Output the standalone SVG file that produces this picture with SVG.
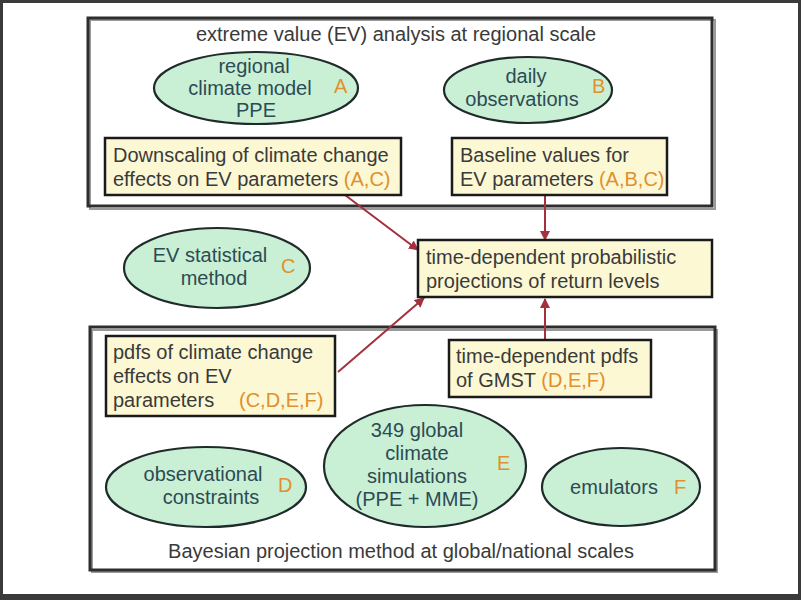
<svg xmlns="http://www.w3.org/2000/svg" width="801" height="600" viewBox="0 0 801 600">
<defs>
<style>
text{font-family:"Liberation Sans",Arial,sans-serif;font-size:20px}
.t{fill:#3a3a3a}
.et{fill:#2c4b55}
.o{fill:#e0902e}
.frame{fill:none;stroke:#2e2e2e;stroke-width:3}
.ell{fill:#c9f0d4;stroke:#1f2a2a;stroke-width:2.2}
.box{fill:#fcf8d4;stroke:#1a1a1a;stroke-width:2.5}
.shadow{fill:none;stroke:#9a9a9a;stroke-width:2}
.conn{stroke:#a3303c;stroke-width:2;fill:none;marker-end:url(#ah)}
</style>
<marker id="ah" viewBox="0 0 10 10" refX="9" refY="5" markerWidth="5" markerHeight="5" orient="auto">
<path d="M0,0 L10,5 L0,10 z" fill="#a3303c"/>
</marker>
</defs>
<rect x="0" y="0" width="801" height="600" fill="#ffffff"/>
<rect x="1.5" y="1.5" width="798" height="594" fill="none" stroke="#3a3a3a" stroke-width="3"/>
<rect x="0" y="594" width="801" height="6" fill="#3a3a3a"/>

<g id="region-group">
<rect x="90" y="20" width="625" height="189" class="shadow"/>
<rect x="88" y="18" width="624" height="188" class="frame"/>
<text class="t" x="396" y="41" text-anchor="middle">extreme value (EV) analysis at regional scale</text>
</g>

<g id="global-group">
<rect x="92" y="330" width="625" height="242" class="shadow"/>
<rect x="90" y="327" width="625" height="243" class="frame"/>
<text class="t" x="401" y="558" text-anchor="middle">Bayesian projection method at global/national scales</text>
</g>

<g id="connectors">
<line x1="345" y1="195" x2="418" y2="250" class="conn"/>
<line x1="545" y1="196" x2="545" y2="240" class="conn"/>
<line x1="338" y1="372" x2="424" y2="298" class="conn"/>
<line x1="545" y1="340" x2="545" y2="299" class="conn"/>
</g>

<g id="rcm-ppe">
<ellipse cx="256" cy="88" rx="102" ry="36" class="ell"/>
<text class="et" x="254" y="73" text-anchor="middle">regional</text>
<text class="et" x="250" y="95" text-anchor="middle">climate model</text>
<text class="et" x="256" y="117" text-anchor="middle">PPE</text>
<text class="o" x="334" y="93">A</text>
</g>

<g id="daily-obs">
<ellipse cx="528" cy="90" rx="84" ry="33" class="ell"/>
<text class="et" x="526" y="83" text-anchor="middle">daily</text>
<text class="et" x="522" y="106" text-anchor="middle">observations</text>
<text class="o" x="592" y="93">B</text>
</g>

<g id="downscaling">
<rect x="105" y="138" width="296" height="57" class="box"/>
<text class="t" x="113" y="162">Downscaling of climate change</text>
<text class="t" x="113" y="186">effects on EV parameters <tspan class="o">(A,C)</tspan></text>
</g>

<g id="baseline">
<rect x="452" y="138" width="215" height="57" class="box"/>
<text class="t" x="460" y="162">Baseline values for</text>
<text class="t" x="460" y="186">EV parameters <tspan class="o">(A,B,C)</tspan></text>
</g>

<g id="ev-method">
<ellipse cx="217" cy="268" rx="93" ry="40" class="ell"/>
<text class="et" x="210" y="262" text-anchor="middle">EV statistical</text>
<text class="et" x="214" y="285" text-anchor="middle">method</text>
<text class="o" x="281" y="273">C</text>
</g>

<g id="return-levels">
<rect x="418" y="240" width="294" height="57" class="box"/>
<text class="t" x="426" y="264">time-dependent probabilistic</text>
<text class="t" x="426" y="288">projections of return levels</text>
</g>

<g id="pdfs-cc">
<rect x="106" y="336" width="229" height="80" class="box"/>
<text class="t" x="113" y="359">pdfs of climate change</text>
<text class="t" x="113" y="383">effects on EV</text>
<text class="t" x="113" y="407">parameters</text>
<text class="o" x="239" y="407">(C,D,E,F)</text>
</g>

<g id="pdfs-gmst">
<rect x="449" y="340" width="202" height="57" class="box"/>
<text class="t" x="456" y="363">time-dependent pdfs</text>
<text class="t" x="456" y="387">of GMST <tspan class="o">(D,E,F)</tspan></text>
</g>

<g id="obs-constraints">
<ellipse cx="206" cy="487" rx="100" ry="40" class="ell"/>
<text class="et" x="203" y="481" text-anchor="middle">observational</text>
<text class="et" x="211" y="504" text-anchor="middle">constraints</text>
<text class="o" x="278" y="492">D</text>
</g>

<g id="global-sims">
<ellipse cx="425" cy="466" rx="101" ry="61" class="ell"/>
<text class="et" x="417" y="437" text-anchor="middle">349 global</text>
<text class="et" x="417" y="460" text-anchor="middle">climate</text>
<text class="et" x="417" y="483" text-anchor="middle">simulations</text>
<text class="et" x="417" y="506" text-anchor="middle">(PPE + MME)</text>
<text class="o" x="497" y="470">E</text>
</g>

<g id="emulators">
<ellipse cx="621" cy="487" rx="79" ry="39" class="ell"/>
<text class="et" x="614" y="494" text-anchor="middle">emulators</text>
<text class="o" x="674" y="494">F</text>
</g>
</svg>
